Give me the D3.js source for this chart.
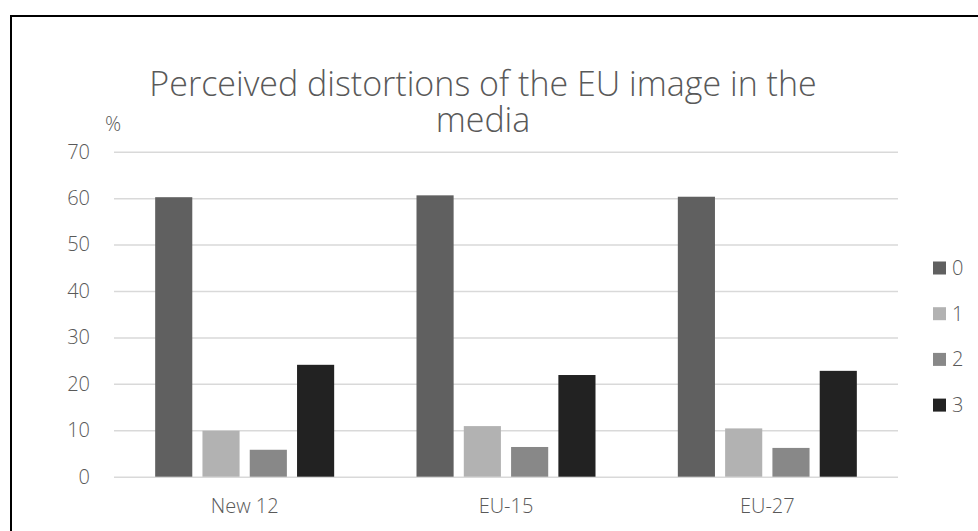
<!DOCTYPE html>
<html>
<head>
<meta charset="utf-8">
<script src="https://cdn.jsdelivr.net/npm/d3@7"></script>
<style>
  html, body { margin: 0; padding: 0; background: #fff; }
  svg { display: block; }
  text { font-family: "Open Sans", "Lato", sans-serif; font-weight: 300; fill: #595959; }
</style>
</head>
<body>
<svg id="chart" width="978" height="531"></svg>
<script>
// Survey groups along the x axis
const categories = ["New 12", "EU-15", "EU-27"];
// Response levels (legend entries)
const seriesNames = ["0", "1", "2", "3"];
// Share of respondents (%) per level, one array per level, in category order
const level0 = [60.2, 60.6, 60.3];
const level1 = [9.9, 10.9, 10.4];
const level2 = [5.8, 6.4, 6.2];
const level3 = [24.1, 21.9, 22.8];
const yTicks = [0, 10, 20, 30, 40, 50, 60, 70];
const seriesColors = ["#606060", "#b2b2b2", "#888888", "#222222"];

const seriesValues = [level0, level1, level2, level3];

const svg = d3.select("#chart");
const fontStack = "'Open Sans', Lato, sans-serif";

// Outer chart frame
svg.append("rect")
  .attr("x", 11).attr("y", 16)
  .attr("width", 1000).attr("height", 560)
  .attr("fill", "none").attr("stroke", "#000").attr("stroke-width", 2);

const plot = { left: 114, right: 898, top: 151.7, bottom: 476.7 };

const x = d3.scaleBand().domain(categories).range([plot.left, plot.right]).paddingInner(0).paddingOuter(0);
const y = d3.scaleLinear().domain([0, 70]).range([plot.bottom, plot.top]);

// Inner band for the four bars of each group
const groupWidth = 179;
const xs = d3.scaleBand().domain(seriesNames)
  .range([(x.bandwidth() - groupWidth) / 2, (x.bandwidth() + groupWidth) / 2])
  .paddingInner(0.215).paddingOuter(0);

// Horizontal gridlines and value labels
const yAxis = d3.axisLeft(y).tickValues(yTicks).tickSize(-(plot.right - plot.left)).tickPadding(24).tickFormat(d3.format("d"));
const gy = svg.append("g").attr("transform", `translate(${plot.left},0)`).call(yAxis);
gy.select(".domain").remove();
gy.selectAll(".tick line").attr("stroke", "#d9d9d9").attr("stroke-width", 1.5);
gy.selectAll(".tick text").attr("font-size", 20).attr("fill", "#595959")
  .style("font-family", fontStack).style("font-weight", 300);

// Bars
const groups = svg.append("g").selectAll("g")
  .data(categories)
  .join("g")
  .attr("transform", d => `translate(${x(d)},0)`);

groups.selectAll("rect")
  .data((c, ci) => seriesNames.map((s, si) => ({ s, si, v: seriesValues[si][ci] })))
  .join("rect")
  .attr("x", d => xs(d.s))
  .attr("width", xs.bandwidth())
  .attr("y", d => y(d.v))
  .attr("height", d => y(0) - y(d.v))
  .attr("fill", d => seriesColors[d.si]);

// Category labels
const xAxis = d3.axisBottom(x).tickSize(0).tickPadding(22);
const gx = svg.append("g").attr("transform", `translate(0,${plot.bottom})`).call(xAxis);
gx.select(".domain").remove();
gx.selectAll(".tick text").attr("font-size", 20).attr("fill", "#595959")
  .style("font-family", fontStack).style("font-weight", 300);

// Title, two lines
const title = svg.append("text").attr("text-anchor", "middle").attr("font-size", 34);
title.append("tspan").attr("x", 483).attr("y", 96).text("Perceived distortions of the EU image in the");
title.append("tspan").attr("x", 483).attr("y", 132).text("media");

// Unit label
svg.append("text").attr("x", 105).attr("y", 131).attr("font-size", 20).text("%");

// Legend
const legend = svg.append("g").selectAll("g")
  .data(seriesNames)
  .join("g")
  .attr("transform", (d, i) => `translate(933,${268 + i * 45.7})`);
legend.append("rect").attr("x", 0).attr("y", -6.5).attr("width", 13).attr("height", 13)
  .attr("fill", (d, i) => seriesColors[i]);
legend.append("text").attr("x", 19).attr("y", 0).attr("dy", "0.35em").attr("font-size", 20).text(d => d);
</script>
</body>
</html>
